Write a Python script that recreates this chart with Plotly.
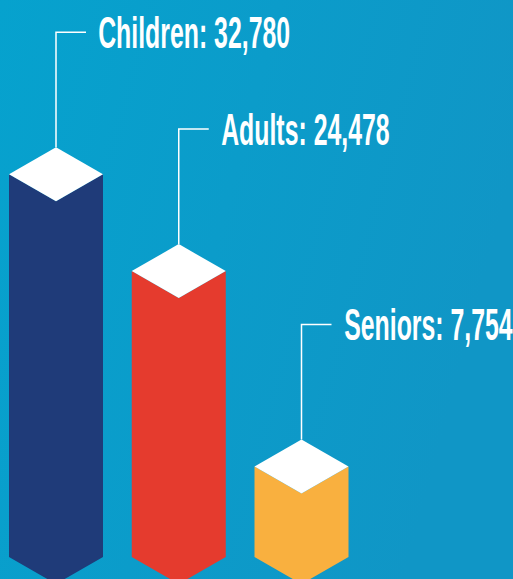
import plotly.graph_objects as go

categories = ["Children", "Adults", "Seniors"]
values = [32780, 24478, 7754]
colors = ["#1F3B79", "#E53B2E", "#F9B03F"]

W, H = 513, 579
# pixel scale helpers (layout, not data)
px_per_x = 122.75           # pixels between bar centres
x0_px = 56                  # pixel x of first bar centre
px_per_v = 0.01168          # pixels per unit of value
base_px = 557               # pixel y of value 0

xr = [(-x0_px) / px_per_x, (W - x0_px) / px_per_x]
yr = [(base_px - H) / px_per_v, base_px / px_per_v]

half_w = 47 / px_per_x
half_h = 27 / px_per_v
lead_h = 115 / px_per_v
hseg = 30 / px_per_x
text_gap = 41 / px_per_x

fig = go.Figure()
annotations = []
for i, (cat, v, c) in enumerate(zip(categories, values, colors)):
    xs = [i - half_w, i, i + half_w, i + half_w, i, i - half_w, i - half_w]
    ys = [v, v - half_h, v, 0, -half_h, 0, v]
    fig.add_trace(go.Scatter(x=xs, y=ys, fill="toself", fillcolor=c, mode="lines",
                             line=dict(width=0, color=c), hoverinfo="skip", showlegend=False))
    xs = [i - half_w, i, i + half_w, i, i - half_w]
    ys = [v, v + half_h, v, v - half_h, v]
    fig.add_trace(go.Scatter(x=xs, y=ys, fill="toself", fillcolor="white", mode="lines",
                             line=dict(width=0, color="white"), hoverinfo="skip", showlegend=False))
    ly = v + half_h + lead_h
    fig.add_trace(go.Scatter(x=[i, i, i + hseg], y=[v + half_h, ly, ly], mode="lines",
                             line=dict(width=1.5, color="white"), hoverinfo="skip", showlegend=False))
    annotations.append(dict(x=i + text_gap, y=ly, xref="x", yref="y", xanchor="left",
                            yanchor="middle", showarrow=False,
                            text=f"<b>{cat}: {v:,}</b>",
                            font=dict(family="Liberation Sans, Arial, sans-serif",
                                      size=44, color="white")))

grad = ("data:image/svg+xml;utf8,<svg xmlns='http://www.w3.org/2000/svg' width='100' height='100' "
        "preserveAspectRatio='none'><defs><linearGradient id='g' x1='0' y1='0' x2='1' y2='0.3'>"
        "<stop offset='0' stop-color='%2306A2CE'/><stop offset='1' stop-color='%231096C6'/>"
        "</linearGradient></defs><rect width='100' height='100' fill='url(%23g)'/></svg>")

fig.update_layout(
    width=W, height=H,
    margin=dict(l=0, r=0, t=0, b=0),
    paper_bgcolor="#0A9CCA", plot_bgcolor="rgba(0,0,0,0)",
    xaxis=dict(range=xr, visible=False, fixedrange=True),
    yaxis=dict(range=yr, visible=False, fixedrange=True),
    annotations=annotations,
    images=[dict(source=grad, xref="paper", yref="paper", x=0, y=1, sizex=1, sizey=1,
                 sizing="stretch", layer="below", xanchor="left", yanchor="top")],
    showlegend=False,
)

post = """
document.body.style.margin = '0';
document.querySelectorAll('.annotation-text').forEach(function(t){
  t.setAttribute('transform', 'scale(0.565,1)');
});
"""
fig.write_html("out.html", post_script=post, config={"staticPlot": True})
